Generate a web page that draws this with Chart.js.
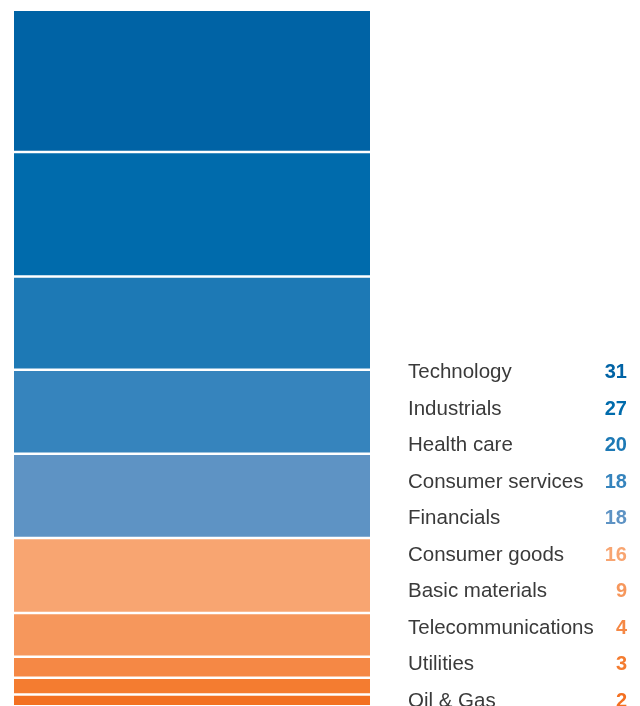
<!DOCTYPE html>
<html>
<head>
<meta charset="utf-8">
<script src="https://cdn.jsdelivr.net/npm/chart.js@4"></script>
<style>
    html, body { margin: 0; padding: 0; background: #fff; }
    #wrap { position: relative; width: 640px; height: 706px; }
    #legend {
        position: absolute; left: 408px; top: 353px; width: 219px;
        font-family: "Liberation Sans", Arial, sans-serif; font-size: 20.5px;
    }
    .row { display: flex; justify-content: space-between; height: 36.5px; line-height: 36.5px; }
    .lab { color: #3a3a3a; }
    .val { font-weight: bold; font-size: 20px; }
</style>
</head>
<body>
<div id="wrap">
    <canvas id="sectorChart" width="640" height="706"></canvas>
    <div id="legend"></div>
</div>
<script>
const sectors = ['Technology', 'Industrials', 'Health care', 'Consumer services', 'Financials',
    'Consumer goods', 'Basic materials', 'Telecommunications', 'Utilities', 'Oil & Gas'];
const counts = [31, 27, 20, 18, 18, 16, 9, 4, 3, 2];
const colours = ['#0063a5', '#006bac', '#1d79b5', '#3684bd', '#5e93c4',
    '#f8a571', '#f6975c', '#f58845', '#f47c30', '#f37021'];

// white gap between blocks, in value units (about 3px)
const gap = 0.7;

// build floating blocks from the bottom up (Oil & Gas first)
let base = 0;
const datasets = [];
for (let i = sectors.length - 1; i >= 0; i--) {
    datasets.push({
        label: sectors[i],
        data: [[base, base + counts[i]]],
        backgroundColor: colours[i],
        borderWidth: 0,
        barPercentage: 1,
        categoryPercentage: 1
    });
    base += counts[i] + (i > 0 ? gap : 0);
}

new Chart(document.getElementById('sectorChart'), {
    type: 'bar',
    data: { labels: [''], datasets: datasets },
    options: {
        responsive: false,
        animation: false,
        layout: { padding: { left: 14, right: 270, top: 11, bottom: 1 } },
        plugins: { legend: { display: false }, tooltip: { enabled: false } },
        scales: {
            x: { stacked: true, display: false },
            y: { display: false, min: 0, max: base }
        }
    }
});

const legend = document.getElementById('legend');
sectors.forEach((s, i) => {
    const row = document.createElement('div');
    row.className = 'row';
    row.innerHTML = '<span class="lab"></span><span class="val"></span>';
    row.children[0].textContent = s;
    row.children[1].textContent = counts[i];
    row.children[1].style.color = colours[i];
    legend.appendChild(row);
});
</script>
</body>
</html>
